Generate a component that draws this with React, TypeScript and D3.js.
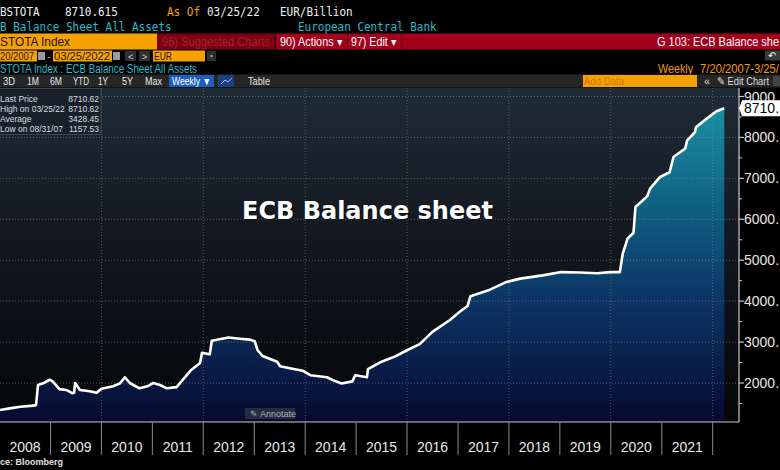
import React from "react";
import * as d3 from "d3";

const dates = ["2007-07-20","2007-08-31","2007-11-02","2008-01-04","2008-03-14","2008-05-30","2008-08-08","2008-09-19","2008-10-03","2008-11-14","2008-12-26","2009-01-16","2009-03-06","2009-04-24","2009-06-05","2009-06-19","2009-06-26","2009-07-31","2009-10-09","2009-11-27","2010-01-01","2010-03-26","2010-05-14","2010-06-18","2010-07-23","2010-10-01","2010-11-26","2011-01-07","2011-02-25","2011-04-15","2011-06-24","2011-08-05","2011-10-07","2011-12-09","2011-12-23","2012-02-17","2012-03-02","2012-06-29","2012-09-21","2012-11-30","2013-01-04","2013-01-25","2013-03-01","2013-06-14","2013-07-05","2013-09-13","2013-12-13","2014-02-07","2014-06-06","2014-07-18","2014-09-19","2014-12-05","2014-12-26","2015-03-20","2015-03-27","2015-06-19","2015-10-09","2016-01-01","2016-04-01","2016-07-01","2016-11-04","2017-01-13","2017-03-10","2017-03-31","2017-06-09","2017-08-18","2017-12-15","2018-03-23","2018-08-31","2019-01-11","2019-05-24","2019-09-27","2019-12-27","2020-03-06","2020-03-27","2020-05-01","2020-06-12","2020-06-26","2020-09-18","2020-10-09","2020-12-18","2021-02-26","2021-03-26","2021-06-18","2021-07-02","2021-08-27","2021-09-03","2021-11-19","2022-01-28","2022-03-25"];
const values = [1190,1158,1290,1340,1380,1420,1440,1460,1950,2000,2080,2040,1850,1830,1750,1760,2000,1830,1800,1760,1860,1920,1990,2140,2000,1870,1920,2000,1950,1870,1900,2070,2320,2490,2740,2700,3030,3110,3080,3060,3020,2800,2660,2520,2410,2360,2300,2190,2140,2070,1990,2040,2190,2140,2340,2500,2650,2800,2950,3250,3540,3740,3880,4120,4200,4280,4470,4550,4630,4710,4700,4680,4710,4710,5160,5530,5670,6300,6560,6750,7030,7150,7520,7730,7930,8130,8250,8460,8640,8710.62];
const yearLabels = ["2008","2009","2010","2011","2012","2013","2014","2015","2016","2017","2018","2019","2020","2021"];
const yTicks = [2000,3000,4000,5000,6000,7000,8000,9000];
const yMinorTicks = [1500,2500,3500,4500,5500,6500,7500,8500];
const legendRows = [["Last Price","8710.62"],["High on 03/25/22","8710.62"],["Average","3428.45"],["Low on 08/31/07","1157.53"]];
const rangeButtons = ["3D","1M","6M","YTD","1Y","5Y","Max"];
const rangeX = [3, 27, 50, 73, 98, 122, 145];
const rangeW = [12, 12, 12, 16, 10, 11, 17];
const lastValue = 8710.62;

const PL = 0, PR = 739, PT = 88, PB = 422;

export default function App() {
  const parse = d3.utcParse("%Y-%m-%d");
  const data = dates.map((d, i) => ({ date: parse(d) as Date, value: values[i] }));
  const x = d3.scaleUtc().domain([new Date(Date.UTC(2008,0,1)), new Date(Date.UTC(2022,0,1))]).range([-0.5, 712.7]);
  const y = d3.scaleLinear().domain([2000, 9000]).range([383, 96.5]);
  const line = d3.line<any>().x(d => x(d.date)).y(d => y(d.value));
  const area = d3.area<any>().x(d => x(d.date)).y0(PB).y1(d => y(d.value));
  const yearStarts = d3.range(2008, 2023).map(yr => new Date(Date.UTC(yr,0,1)));
  const evenYears = d3.range(2010, 2023, 2).map(yr => new Date(Date.UTC(yr,0,1)));
  const mono = "'DejaVu Sans Mono', monospace";
  const sans = "'Liberation Sans', Arial, sans-serif";
  const cyan = "#22bccb";
  const orange = "#f5a100";
  const T = (p: any) => {
    const { s, ...rest } = p;
    return <text fontFamily={mono} fontSize={12.5} textLength={s.length * 6.6} lengthAdjust="spacingAndGlyphs" {...rest}>{s}</text>;
  };
  const S = (p: any) => {
    const { s, w, fs, ...rest } = p;
    return <text fontFamily={sans} fontSize={fs || 12} textLength={w} lengthAdjust="spacingAndGlyphs" {...rest}>{s}</text>;
  };
  const ly = y(lastValue);

  return (
    <svg width={780} height={470} style={{ position: "absolute", left: 0, top: 0, background: "#000" }}>
      <defs>
        <linearGradient id="bg" gradientUnits="userSpaceOnUse" x1={0} y1={PT} x2={0} y2={PB}>
          <stop offset="0" stopColor="#1f2b37" />
          <stop offset="0.45" stopColor="#12181f" />
          <stop offset="1" stopColor="#050607" />
        </linearGradient>
        <linearGradient id="fill" gradientUnits="userSpaceOnUse" x1={0} y1={100} x2={0} y2={PB}>
          <stop offset="0" stopColor="#1b93a4" />
          <stop offset="0.35" stopColor="#0f5d80" />
          <stop offset="0.65" stopColor="#0c3162" />
          <stop offset="1" stopColor="#070a30" />
        </linearGradient>
        <clipPath id="plot"><rect x={PL} y={PT} width={PR - PL} height={PB - PT} /></clipPath>
      </defs>

      {/* Header row 1 */}
      <T x={0} y={16} s="BSTOTA" fill="#f0f0f0" />
      <T x={65} y={16} s="8710.615" fill="#f0f0f0" />
      <T x={167} y={16} s="As Of" fill={orange} />
      <T x={207} y={16} s="03/25/22" fill="#f0f0f0" />
      <T x={280} y={16} s="EUR/Billion" fill="#f0f0f0" />
      {/* row 2 */}
      <T x={0} y={30.5} s="B Balance Sheet All Assets" fill={cyan} />
      <T x={298} y={30.5} s="European Central Bank" fill={cyan} />
      {/* row 3 */}
      <rect x={0} y={33.5} width={157} height={16} fill={orange} />
      <S x={0} y={46} s="STOTA Index" w={70} fs={13} fill="#1a1000" />
      <rect x={157} y={33.5} width={118} height={16} fill="#7c0012" />
      <S x={162} y={46} s="96) Suggested Charts" w={108} fill="#a3202f" />
      <rect x={276} y={33.5} width={504} height={16} fill="#a3001b" />
      <S x={280} y={46} s="90) Actions ▾" w={62} fill="#fff" />
      <line x1={347.5} x2={347.5} y1={33.5} y2={49.5} stroke="#5a000c" />
      <S x={351} y={46} s="97) Edit ▾" w={45} fill="#fff" />
      <line x1={401.5} x2={401.5} y1={33.5} y2={49.5} stroke="#5a000c" />
      <S x={657} y={46} s="G 103: ECB Balance she" w={122} fill="#fff" />
      {/* row 4 */}
      <rect x={0} y={50.5} width={37} height={11} fill={orange} />
      <S x={0} y={60} s="20/2007" w={34} fs={11} fill="#2a1a00" />
      <rect x={38} y={52} width={7} height={8} fill="#9a9a9a" />
      <text x={47} y={60} fontFamily={sans} fontSize={11} fill={orange}>-</text>
      <rect x={53} y={50.5} width={59} height={11} fill={orange} />
      <S x={54} y={60} s="03/25/2022" w={56} fs={11} fill="#2a1a00" />
      <rect x={113} y={52} width={7} height={8} fill="#9a9a9a" />
      <rect x={125} y={51} width={11} height={10} fill="#303030" />
      <text x={128} y={59.5} fontFamily={sans} fontSize={9} fill="#ddd">&lt;</text>
      <rect x={139} y={51} width={11} height={10} fill="#303030" />
      <text x={142} y={59.5} fontFamily={sans} fontSize={9} fill="#ddd">&gt;</text>
      <rect x={153} y={50.5} width={52} height={11} fill={orange} />
      <S x={154} y={60} s="EUR" w={18} fs={11} fill="#2a1a00" />
      <rect x={207} y={51} width={9} height={10} fill="#303030" />
      <circle cx={211.5} cy={56} r={1} fill="#ccc" />
      <rect x={765} y={50.5} width={15} height={10} fill="#3a3a3a" />
      <text x={768} y={59} fontFamily={sans} fontSize={10} fill="#fff">↶</text>
      {/* row 5 */}
      <S x={0} y={72.5} s="STOTA Index : ECB Balance Sheet All Assets" w={197} fill={cyan} />
      <S x={658} y={72.5} s="Weekly" w={35} fill="#f09a10" />
      <S x={700} y={72.5} s="7/20/2007-3/25/" w={79} fill="#f09a10" />
      {/* row 6 */}
      <rect x={0} y={74.5} width={780} height={13} fill="#262626" />
      {rangeButtons.map((b, i) => (
        <S key={b} x={rangeX[i]} y={84.5} s={b} w={rangeW[i]} fs={10.5} fill="#e8e8e8" />
      ))}
      <rect x={169} y={75} width={45} height={12} fill="#1d5fc0" />
      <S x={172} y={84.5} s="Weekly ▼" w={39} fs={10.5} fill="#fff" />
      <rect x={218} y={75} width={16} height={12} fill="#1d3f80" />
      <path d="M221,84 L225,80 L228,82 L232,78" stroke="#9ec3ff" fill="none" strokeWidth={1} />
      <S x={248} y={84.5} s="Table" w={22} fs={10.5} fill="#e8e8e8" />
      <rect x={583} y={75} width={114} height={12} fill={orange} />
      <S x={584} y={84.5} s="Add Data" w={40} fs={10.5} fill="#d07a00" />
      <text x={704} y={84.5} fontFamily={sans} fontSize={11} fill="#ddd">«</text>
      <S x={717} y={84.5} s="✎ Edit Chart" w={52} fs={10.5} fill="#ddd" />
      <rect x={773} y={76} width={7} height={10} fill="#444" />

      {/* Plot */}
      <rect x={PL} y={PT} width={PR - PL} height={PB - PT} fill="url(#bg)" />
      <g clipPath="url(#plot)">
        <path d={area(data) as string} fill="url(#fill)" />
        {yTicks.map(t => (
          <line key={t} x1={PL} x2={PR} y1={y(t)} y2={y(t)} stroke="#8a9098" strokeOpacity={0.55} strokeDasharray="1,2" />
        ))}
        {evenYears.map((d, i) => (
          <line key={i} x1={x(d)} x2={x(d)} y1={PT} y2={PB} stroke="#8a9098" strokeOpacity={0.55} strokeDasharray="1,2" />
        ))}
        <path d={line(data) as string} fill="none" stroke="#ffffff" strokeWidth={2.6} strokeLinejoin="round" />
      </g>
      <line x1={PL} x2={PR} y1={PB} y2={PB} stroke="#c8c8c8" strokeWidth={1.2} />
      <line x1={PR} x2={PR} y1={PT} y2={PB} stroke="#c8c8c8" strokeWidth={1.2} />

      {/* Title */}
      <text x={242} y={219} fontFamily="'DejaVu Sans', sans-serif" fontWeight="bold" fontSize={24} fill="#000" opacity={0.6} transform="translate(1,1)">ECB Balance sheet</text>
      <text x={242} y={219} fontFamily="'DejaVu Sans', sans-serif" fontWeight="bold" fontSize={24} fill="#ffffff">ECB Balance sheet</text>

      {/* Legend box */}
      <rect x={-1} y={88.5} width={102} height={46} fill="#182129" stroke="#3c4854" />
      {legendRows.map((r, i) => (
        <g key={i}>
          <text x={0} y={102 + i * 10} fontFamily={sans} fontSize={8.5} fill="#d8dde2">{r[0]}</text>
          <text x={99} y={102 + i * 10} fontFamily={sans} fontSize={8.5} fill="#d8dde2" textAnchor="end">{r[1]}</text>
        </g>
      ))}

      {/* Annotate button */}
      <rect x={245} y={408} width={50} height={11} fill="#252c3c" />
      <text x={250} y={416.5} fontFamily={sans} fontSize={9} fill="#a8b0bc">✎ Annotate</text>

      {/* Y axis */}
      {yTicks.map(t => (
        <g key={t}>
          <line x1={PR} x2={PR + 5} y1={y(t)} y2={y(t)} stroke="#c8c8c8" strokeWidth={1.2} />
          {t !== 9000 || true ? <text x={744} y={y(t) + 5} fontFamily={sans} fontSize={14} fill="#e6e6e6">{t}.</text> : null}
        </g>
      ))}
      {yMinorTicks.map(t => (
        <line key={t} x1={PR} x2={PR + 3} y1={y(t)} y2={y(t)} stroke="#c8c8c8" />
      ))}
      {/* Last price tag */}
      <path d={`M${PR},${ly} L${PR + 3},${ly - 8} H780 V${ly + 8} H${PR + 3} Z`} fill="#ffffff" />
      <text x={744} y={ly + 5} fontFamily={sans} fontSize={14} fill="#000">8710.</text>

      {/* X axis */}
      {yearStarts.map((d, i) => (
        <line key={i} x1={x(d)} x2={x(d)} y1={PB} y2={455} stroke="#8a8a8a" />
      ))}
      {yearLabels.map((lab, i) => {
        const a = x(yearStarts[i]);
        const b = x(yearStarts[i + 1]);
        return <text key={lab} x={(a + b) / 2} y={452} textAnchor="middle" fontFamily={sans} fontSize={14} fill="#e8e8e8">{lab}</text>;
      })}
      <text x={0} y={465} fontFamily={sans} fontWeight="bold" fontSize={9} fill="#e0e0e0">ce: Bloomberg</text>
    </svg>
  );
}
